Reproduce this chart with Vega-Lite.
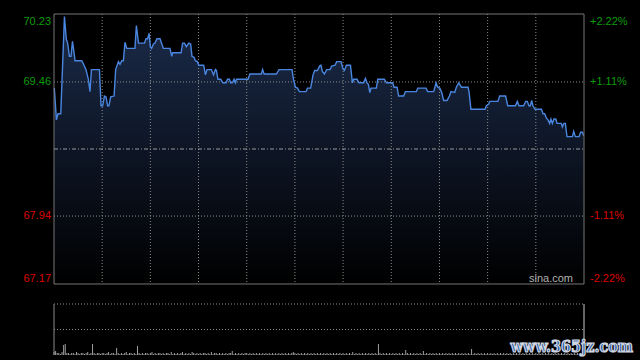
{
  "$schema": "https://vega.github.io/schema/vega-lite/v6.json",
  "width": 530,
  "height": 341,
  "autosize": {"type": "none"},
  "padding": {"left": 54, "top": 14, "right": 56, "bottom": 5},
  "background": "#000000",
  "view": {"stroke": null},
  "config": {"text": {"font": "Liberation Sans", "fontSize": 11}},
  "datasets": {
    "price": [
      {"t":0.2,"p":69.39},{"t":1.5,"p":69.03},{"t":2.5,"p":69.10},{"t":4.2,"p":69.10},{"t":6.5,"p":70.20},{"t":7.7,"p":69.94},{"t":8.5,"p":69.90},{"t":9.6,"p":69.75},{"t":10.6,"p":69.75},{"t":11.5,"p":69.92},{"t":12.5,"p":69.79},{"t":13.1,"p":69.70},{"t":17.3,"p":69.70},{"t":18.9,"p":69.64},{"t":19.9,"p":69.60},{"t":21.4,"p":69.49},{"t":22.4,"p":69.35},{"t":23.3,"p":69.60},{"t":28.3,"p":69.60},{"t":29.3,"p":69.19},{"t":30.3,"p":69.19},{"t":31.4,"p":69.30},{"t":32.4,"p":69.29},{"t":33.4,"p":69.19},{"t":34.2,"p":69.19},{"t":35.3,"p":69.29},{"t":37.4,"p":69.30},{"t":38.4,"p":69.60},{"t":40.1,"p":69.69},{"t":41.1,"p":69.66},{"t":42.2,"p":69.70},{"t":43.2,"p":69.70},{"t":44.2,"p":69.91},{"t":45.3,"p":69.84},{"t":50.4,"p":69.84},{"t":51.3,"p":70.10},{"t":52.6,"p":69.90},{"t":56.3,"p":69.90},{"t":57.3,"p":69.95},{"t":58.3,"p":69.95},{"t":59.2,"p":70.01},{"t":60.0,"p":69.86},{"t":60.8,"p":69.84},{"t":61.9,"p":69.89},{"t":62.9,"p":69.90},{"t":64.1,"p":69.95},{"t":66.0,"p":69.95},{"t":68.1,"p":69.84},{"t":72.2,"p":69.84},{"t":73.3,"p":69.75},{"t":73.9,"p":69.79},{"t":79.1,"p":69.79},{"t":80.1,"p":69.90},{"t":81.2,"p":69.90},{"t":82.4,"p":69.86},{"t":83.9,"p":69.90},{"t":85.1,"p":69.89},{"t":85.9,"p":69.75},{"t":87.2,"p":69.74},{"t":88.0,"p":69.70},{"t":89.3,"p":69.69},{"t":90.1,"p":69.65},{"t":93.2,"p":69.65},{"t":94.3,"p":69.54},{"t":95.3,"p":69.60},{"t":98.0,"p":69.60},{"t":99.3,"p":69.54},{"t":100.5,"p":69.60},{"t":101.1,"p":69.59},{"t":102.1,"p":69.49},{"t":103.8,"p":69.49},{"t":105.2,"p":69.45},{"t":107.1,"p":69.45},{"t":108.0,"p":69.49},{"t":109.2,"p":69.49},{"t":110.0,"p":69.45},{"t":111.1,"p":69.45},{"t":112.1,"p":69.49},{"t":113.0,"p":69.45},{"t":113.6,"p":69.49},{"t":120.8,"p":69.49},{"t":122.0,"p":69.55},{"t":129.1,"p":69.55},{"t":129.9,"p":69.60},{"t":130.8,"p":69.55},{"t":138.5,"p":69.55},{"t":140.1,"p":69.60},{"t":148.2,"p":69.60},{"t":149.1,"p":69.49},{"t":150.3,"p":69.40},{"t":151.6,"p":69.39},{"t":152.8,"p":69.35},{"t":156.9,"p":69.35},{"t":157.8,"p":69.39},{"t":159.8,"p":69.39},{"t":161.3,"p":69.54},{"t":162.3,"p":69.59},{"t":164.0,"p":69.59},{"t":165.4,"p":69.64},{"t":166.2,"p":69.65},{"t":167.1,"p":69.58},{"t":168.4,"p":69.55},{"t":169.8,"p":69.60},{"t":171.9,"p":69.60},{"t":172.9,"p":69.64},{"t":175.0,"p":69.65},{"t":176.0,"p":69.69},{"t":178.7,"p":69.69},{"t":179.9,"p":69.61},{"t":180.8,"p":69.59},{"t":182.1,"p":69.65},{"t":184.6,"p":69.65},{"t":185.8,"p":69.45},{"t":186.6,"p":69.49},{"t":188.7,"p":69.49},{"t":189.9,"p":69.45},{"t":192.8,"p":69.45},{"t":193.9,"p":69.50},{"t":194.9,"p":69.45},{"t":195.8,"p":69.43},{"t":196.6,"p":69.34},{"t":197.4,"p":69.39},{"t":200.7,"p":69.39},{"t":201.6,"p":69.49},{"t":205.7,"p":69.49},{"t":207.0,"p":69.45},{"t":210.9,"p":69.45},{"t":211.7,"p":69.40},{"t":213.6,"p":69.40},{"t":214.6,"p":69.30},{"t":217.7,"p":69.30},{"t":218.8,"p":69.35},{"t":225.6,"p":69.35},{"t":226.5,"p":69.39},{"t":231.6,"p":69.39},{"t":232.7,"p":69.35},{"t":236.4,"p":69.35},{"t":237.9,"p":69.45},{"t":238.9,"p":69.40},{"t":240.2,"p":69.39},{"t":241.4,"p":69.34},{"t":242.6,"p":69.25},{"t":244.7,"p":69.25},{"t":246.2,"p":69.30},{"t":247.2,"p":69.35},{"t":249.5,"p":69.34},{"t":250.5,"p":69.40},{"t":252.0,"p":69.45},{"t":253.7,"p":69.40},{"t":257.8,"p":69.40},{"t":258.4,"p":69.35},{"t":259.6,"p":69.15},{"t":268.4,"p":69.15},{"t":269.2,"p":69.19},{"t":270.7,"p":69.21},{"t":271.3,"p":69.24},{"t":276.4,"p":69.24},{"t":277.5,"p":69.30},{"t":281.2,"p":69.30},{"t":282.5,"p":69.19},{"t":287.3,"p":69.19},{"t":288.5,"p":69.24},{"t":289.5,"p":69.19},{"t":292.4,"p":69.19},{"t":293.7,"p":69.24},{"t":294.7,"p":69.24},{"t":295.7,"p":69.19},{"t":296.6,"p":69.19},{"t":297.4,"p":69.25},{"t":298.2,"p":69.19},{"t":299.5,"p":69.15},{"t":303.5,"p":69.15},{"t":304.5,"p":69.10},{"t":305.5,"p":69.10},{"t":306.6,"p":69.05},{"t":307.6,"p":69.03},{"t":308.6,"p":68.99},{"t":309.4,"p":69.04},{"t":310.3,"p":68.99},{"t":311.3,"p":69.04},{"t":312.4,"p":69.04},{"t":313.2,"p":68.99},{"t":315.9,"p":68.99},{"t":316.5,"p":68.95},{"t":317.5,"p":68.99},{"t":318.4,"p":68.99},{"t":319.4,"p":68.84},{"t":322.8,"p":68.84},{"t":323.6,"p":68.90},{"t":324.6,"p":68.84},{"t":326.9,"p":68.84},{"t":327.9,"p":68.89},{"t":329.0,"p":68.89},{"t":329.8,"p":68.85}
    ],
    "vol": [
      {"t":0,"v":3},{"t":1,"v":4},{"t":2,"v":2},{"t":3,"v":2},{"t":4,"v":1},{"t":5,"v":3},{"t":6,"v":10},{"t":7,"v":11},{"t":8,"v":2},{"t":9,"v":2},
      {"t":10,"v":1},{"t":11,"v":2},{"t":12,"v":2},{"t":13,"v":1},{"t":14,"v":3},{"t":15,"v":2},{"t":16,"v":1},{"t":17,"v":2},{"t":18,"v":2},{"t":19,"v":1},
      {"t":20,"v":2},{"t":21,"v":3},{"t":22,"v":1},{"t":23,"v":2},{"t":24,"v":11},{"t":25,"v":2},{"t":26,"v":1},{"t":27,"v":2},{"t":28,"v":2},{"t":29,"v":1},
      {"t":30,"v":2},{"t":31,"v":2},{"t":32,"v":1},{"t":33,"v":2},{"t":34,"v":3},{"t":35,"v":1},{"t":36,"v":2},{"t":37,"v":2},{"t":38,"v":1},{"t":39,"v":7},
      {"t":40,"v":2},{"t":41,"v":1},{"t":42,"v":2},{"t":43,"v":1},{"t":44,"v":2},{"t":45,"v":3},{"t":46,"v":1},{"t":47,"v":2},{"t":48,"v":2},{"t":49,"v":1},
      {"t":50,"v":2},{"t":51,"v":1},{"t":52,"v":9},{"t":53,"v":2},{"t":54,"v":1},{"t":55,"v":2},{"t":56,"v":1},{"t":57,"v":2},{"t":58,"v":2},{"t":59,"v":1},
      {"t":60,"v":2},{"t":61,"v":3},{"t":62,"v":1},{"t":63,"v":2},{"t":64,"v":1},{"t":65,"v":2},{"t":66,"v":2},{"t":67,"v":1},{"t":68,"v":2},{"t":69,"v":1},
      {"t":70,"v":2},{"t":71,"v":2},{"t":72,"v":1},{"t":73,"v":3},{"t":74,"v":1},{"t":75,"v":2},{"t":76,"v":1},{"t":77,"v":2},{"t":78,"v":1},{"t":79,"v":2},
      {"t":80,"v":3},{"t":81,"v":1},{"t":82,"v":2},{"t":83,"v":1},{"t":84,"v":2},{"t":85,"v":1},{"t":86,"v":3},{"t":87,"v":2},{"t":88,"v":1},{"t":89,"v":2},
      {"t":90,"v":1},{"t":91,"v":2},{"t":92,"v":1},{"t":93,"v":2},{"t":94,"v":2},{"t":95,"v":1},{"t":96,"v":2},{"t":97,"v":1},{"t":98,"v":3},{"t":99,"v":1},
      {"t":100,"v":2},{"t":101,"v":2},{"t":102,"v":1},{"t":103,"v":2},{"t":104,"v":1},{"t":105,"v":2},{"t":106,"v":1},{"t":107,"v":2},{"t":108,"v":1},{"t":109,"v":2},
      {"t":110,"v":2},{"t":111,"v":4},{"t":112,"v":1},{"t":113,"v":2},{"t":114,"v":1},{"t":115,"v":2},{"t":116,"v":1},{"t":117,"v":2},{"t":118,"v":1},{"t":119,"v":2},
      {"t":120,"v":2},{"t":121,"v":1},{"t":122,"v":2},{"t":123,"v":1},{"t":124,"v":2},{"t":125,"v":1},{"t":126,"v":2},{"t":127,"v":1},{"t":128,"v":2},{"t":129,"v":1},
      {"t":130,"v":2},{"t":131,"v":1},{"t":132,"v":2},{"t":133,"v":1},{"t":134,"v":2},{"t":135,"v":1},{"t":136,"v":2},{"t":137,"v":1},{"t":138,"v":2},{"t":139,"v":1},
      {"t":140,"v":2},{"t":141,"v":1},{"t":142,"v":2},{"t":143,"v":1},{"t":144,"v":2},{"t":145,"v":1},{"t":146,"v":2},{"t":147,"v":1},{"t":148,"v":2},{"t":149,"v":3},
      {"t":150,"v":2},{"t":151,"v":1},{"t":152,"v":2},{"t":153,"v":1},{"t":154,"v":2},{"t":155,"v":1},{"t":156,"v":2},{"t":157,"v":1},{"t":158,"v":2},{"t":159,"v":1},
      {"t":160,"v":2},{"t":161,"v":1},{"t":162,"v":2},{"t":163,"v":1},{"t":164,"v":2},{"t":165,"v":1},{"t":166,"v":2},{"t":167,"v":1},{"t":168,"v":2},{"t":169,"v":1},
      {"t":170,"v":2},{"t":171,"v":1},{"t":172,"v":2},{"t":173,"v":1},{"t":174,"v":2},{"t":175,"v":1},{"t":176,"v":2},{"t":177,"v":1},{"t":178,"v":2},{"t":179,"v":1},
      {"t":180,"v":2},{"t":181,"v":1},{"t":182,"v":2},{"t":183,"v":1},{"t":184,"v":2},{"t":185,"v":1},{"t":186,"v":3},{"t":187,"v":1},{"t":188,"v":2},{"t":189,"v":1},
      {"t":190,"v":2},{"t":191,"v":1},{"t":192,"v":2},{"t":193,"v":1},{"t":194,"v":2},{"t":195,"v":1},{"t":196,"v":2},{"t":197,"v":1},{"t":198,"v":2},{"t":199,"v":1},
      {"t":200,"v":2},{"t":201,"v":1},{"t":202,"v":11},{"t":203,"v":2},{"t":204,"v":1},{"t":205,"v":2},{"t":206,"v":1},{"t":207,"v":2},{"t":208,"v":1},{"t":209,"v":2},
      {"t":210,"v":1},{"t":211,"v":2},{"t":212,"v":1},{"t":213,"v":2},{"t":214,"v":1},{"t":215,"v":2},{"t":216,"v":1},{"t":217,"v":2},{"t":218,"v":1},{"t":219,"v":5},
      {"t":220,"v":2},{"t":221,"v":1},{"t":222,"v":2},{"t":223,"v":1},{"t":224,"v":2},{"t":225,"v":1},{"t":226,"v":2},{"t":227,"v":1},{"t":228,"v":2},{"t":229,"v":1},
      {"t":230,"v":4},{"t":231,"v":1},{"t":232,"v":2},{"t":233,"v":1},{"t":234,"v":2},{"t":235,"v":1},{"t":236,"v":2},{"t":237,"v":1},{"t":238,"v":2},{"t":239,"v":1},
      {"t":240,"v":2},{"t":241,"v":1},{"t":242,"v":2},{"t":243,"v":1},{"t":244,"v":2},{"t":245,"v":1},{"t":246,"v":2},{"t":247,"v":1},{"t":248,"v":2},{"t":249,"v":1},
      {"t":250,"v":2},{"t":251,"v":1},{"t":252,"v":2},{"t":253,"v":1},{"t":254,"v":2},{"t":255,"v":1},{"t":256,"v":2},{"t":257,"v":1},{"t":258,"v":2},{"t":259,"v":1},
      {"t":260,"v":6},{"t":261,"v":1},{"t":262,"v":2},{"t":263,"v":1},{"t":264,"v":2},{"t":265,"v":1},{"t":266,"v":2},{"t":267,"v":1},{"t":268,"v":2},{"t":269,"v":1},
      {"t":270,"v":2},{"t":271,"v":1},{"t":272,"v":2},{"t":273,"v":1},{"t":274,"v":2},{"t":275,"v":1},{"t":276,"v":2},{"t":277,"v":1},{"t":278,"v":2},{"t":279,"v":1},
      {"t":280,"v":2},{"t":281,"v":1},{"t":282,"v":2},{"t":283,"v":1},{"t":284,"v":2},{"t":285,"v":1},{"t":286,"v":2},{"t":287,"v":1},{"t":288,"v":2},{"t":289,"v":1},
      {"t":290,"v":2},{"t":291,"v":1},{"t":292,"v":2},{"t":293,"v":1},{"t":294,"v":2},{"t":295,"v":1},{"t":296,"v":2},{"t":297,"v":1},{"t":298,"v":2},{"t":299,"v":1},
      {"t":300,"v":2},{"t":301,"v":1},{"t":302,"v":2},{"t":303,"v":1},{"t":304,"v":2},{"t":305,"v":1},{"t":306,"v":2},{"t":307,"v":1},{"t":308,"v":2},{"t":309,"v":1},
      {"t":310,"v":2},{"t":311,"v":1},{"t":312,"v":2},{"t":313,"v":1},{"t":314,"v":2},{"t":315,"v":1},{"t":316,"v":2},{"t":317,"v":1},{"t":318,"v":2},{"t":319,"v":1},
      {"t":320,"v":2},{"t":321,"v":1},{"t":322,"v":2},{"t":323,"v":1},{"t":324,"v":2},{"t":325,"v":1},{"t":326,"v":2},{"t":327,"v":1},{"t":328,"v":2},{"t":329,"v":1}
    ]
  },
  "layer": [
    {
      "layer": [
        {
          "data": {"name": "price"},
          "mark": {"type": "area", "interpolate": "linear", "color": {"gradient": "linear", "x1": 0, "y1": 0, "x2": 0, "y2": 1, "stops": [{"offset": 0, "color": "#1b2b4a"}, {"offset": 1, "color": "#000000"}]}},
          "encoding": {
            "x": {"field": "t", "type": "quantitative", "scale": {"domain": [0, 330], "nice": false, "zero": false}, "axis": null},
            "y": {"field": "p", "type": "quantitative", "scale": {"domain": [66.3653, 70.23], "nice": false, "zero": false}, "axis": null},
            "y2": {"datum": 67.17}
          }
        },
        {
          "data": {"values": [{"t":30},{"t":60},{"t":90},{"t":120},{"t":150},{"t":180},{"t":210},{"t":240},{"t":270},{"t":300}]},
          "mark": {"type": "rule", "color": "#8c8c8c", "strokeWidth": 1, "strokeDash": [1, 2]},
          "encoding": {"x": {"field": "t", "type": "quantitative"}, "y": {"datum": 70.23}, "y2": {"datum": 67.17}}
        },
        {
          "data": {"values": [{"p": 69.46}, {"p": 67.94}]},
          "mark": {"type": "rule", "color": "#8c8c8c", "strokeWidth": 1, "strokeDash": [1, 2]},
          "encoding": {"x": {"datum": 0}, "x2": {"datum": 330}, "y": {"field": "p", "type": "quantitative"}}
        },
        {
          "data": {"values": [{"p": 68.70}]},
          "mark": {"type": "rule", "color": "#9a9a9a", "strokeWidth": 1, "strokeDash": [4, 2, 1, 2]},
          "encoding": {"x": {"datum": 0}, "x2": {"datum": 330}, "y": {"field": "p", "type": "quantitative"}}
        },
        {
          "data": {"name": "price"},
          "mark": {"type": "line", "interpolate": "linear", "color": "#4a86e0", "strokeWidth": 1.4},
          "encoding": {"x": {"field": "t", "type": "quantitative"}, "y": {"field": "p", "type": "quantitative"}}
        },
        {
          "data": {"values": [{"a": 1}]},
          "mark": {"type": "rect", "filled": false, "stroke": "#767676", "strokeWidth": 1},
          "encoding": {"x": {"datum": 0}, "x2": {"datum": 330}, "y": {"datum": 70.23}, "y2": {"datum": 67.17}}
        },
        {
          "data": {"values": [{"p": 70.23, "s": "70.23", "r": "+2.22%"}]},
          "layer": [
            {"mark": {"type": "text", "align": "right", "baseline": "top", "dx": -3, "dy": 2, "color": "#0c9c0c"}, "encoding": {"x": {"datum": 0}, "y": {"field": "p", "type": "quantitative"}, "text": {"field": "s"}}},
            {"mark": {"type": "text", "align": "left", "baseline": "top", "dx": 6, "dy": 2, "color": "#0c9c0c"}, "encoding": {"x": {"datum": 330}, "y": {"field": "p", "type": "quantitative"}, "text": {"field": "r"}}}
          ]
        },
        {
          "data": {"values": [{"p": 69.46, "s": "69.46", "r": "+1.11%"}]},
          "layer": [
            {"mark": {"type": "text", "align": "right", "baseline": "middle", "dx": -3, "color": "#0c9c0c"}, "encoding": {"x": {"datum": 0}, "y": {"field": "p", "type": "quantitative"}, "text": {"field": "s"}}},
            {"mark": {"type": "text", "align": "left", "baseline": "middle", "dx": 6, "color": "#0c9c0c"}, "encoding": {"x": {"datum": 330}, "y": {"field": "p", "type": "quantitative"}, "text": {"field": "r"}}}
          ]
        },
        {
          "data": {"values": [{"p": 67.94, "s": "67.94", "r": "-1.11%"}]},
          "layer": [
            {"mark": {"type": "text", "align": "right", "baseline": "middle", "dx": -3, "color": "#dd0000"}, "encoding": {"x": {"datum": 0}, "y": {"field": "p", "type": "quantitative"}, "text": {"field": "s"}}},
            {"mark": {"type": "text", "align": "left", "baseline": "middle", "dx": 6, "color": "#dd0000"}, "encoding": {"x": {"datum": 330}, "y": {"field": "p", "type": "quantitative"}, "text": {"field": "r"}}}
          ]
        },
        {
          "data": {"values": [{"p": 67.17, "s": "67.17", "r": "-2.22%"}]},
          "layer": [
            {"mark": {"type": "text", "align": "right", "baseline": "alphabetic", "dx": -3, "dy": -2, "color": "#dd0000"}, "encoding": {"x": {"datum": 0}, "y": {"field": "p", "type": "quantitative"}, "text": {"field": "s"}}},
            {"mark": {"type": "text", "align": "left", "baseline": "alphabetic", "dx": 6, "dy": -2, "color": "#dd0000"}, "encoding": {"x": {"datum": 330}, "y": {"field": "p", "type": "quantitative"}, "text": {"field": "r"}}}
          ]
        },
        {
          "data": {"values": [{"p": 67.17, "s": "sina.com"}]},
          "mark": {"type": "text", "align": "right", "baseline": "alphabetic", "dx": -11, "dy": -2, "fontSize": 11, "color": "#b0b0b0"},
          "encoding": {"x": {"datum": 330}, "y": {"field": "p", "type": "quantitative"}, "text": {"field": "s"}}
        }
      ]
    },
    {
      "layer": [
        {
          "data": {"name": "vol"},
          "mark": {"type": "rule", "color": "#a0a0a0", "strokeWidth": 1},
          "encoding": {
            "x": {"field": "t", "type": "quantitative"},
            "y": {"field": "v", "type": "quantitative", "scale": {"domain": [0, 341], "nice": false, "zero": false}, "axis": null},
            "y2": {"datum": 0}
          }
        },
        {
          "data": {"values": [{"v": 51}, {"v": 25.5}]},
          "mark": {"type": "rule", "color": "#8c8c8c", "strokeWidth": 1, "strokeDash": [1, 2]},
          "encoding": {"x": {"datum": 0}, "x2": {"datum": 330}, "y": {"field": "v", "type": "quantitative"}}
        },
        {
          "data": {"values": [{"t": 0}]},
          "mark": {"type": "rule", "color": "#8a8a8a", "strokeWidth": 1},
          "encoding": {"x": {"field": "t", "type": "quantitative"}, "y": {"datum": 51}, "y2": {"datum": 0}}
        },
        {
          "data": {"values": [{"t": 330}]},
          "mark": {"type": "rule", "color": "#c8c8c8", "strokeWidth": 1},
          "encoding": {"x": {"field": "t", "type": "quantitative"}, "y": {"datum": 51}, "y2": {"datum": 0}}
        },
        {
          "data": {"values": [{"v": 0, "s": "www.365jz.com"}]},
          "mark": {"type": "text", "align": "right", "baseline": "alphabetic", "dx": 49, "dy": -3, "font": "DejaVu Serif Condensed", "fontWeight": "bold", "fontSize": 16, "color": "#2a5ca8", "stroke": "#d0d6e0", "strokeWidth": 1.2},
          "encoding": {"x": {"datum": 330}, "y": {"field": "v", "type": "quantitative"}, "text": {"field": "s"}}
        }
      ]
    }
  ],
  "resolve": {"scale": {"y": "independent"}}
}
